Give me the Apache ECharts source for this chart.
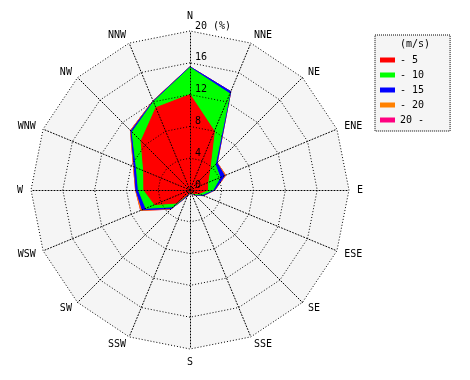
<!DOCTYPE html>
<html>
<head>
<meta charset="utf-8">
<script src="https://cdn.jsdelivr.net/npm/echarts@6/dist/echarts.min.js"></script>
<style>html,body{margin:0;padding:0;background:#fff}#c{width:470px;height:380px}</style>
</head>
<body>
<div id="c"></div>
<script>
// Directions, clockwise from north
var directions = ['N','NNE','NE','ENE','E','ESE','SE','SSE','S','SSW','SW','WSW','W','WNW','NW','NNW'];
// Frequency (%) of each speed class per direction
var speed0to5   = [12.0, 8.0, 3.5, 2.4, 2.2, 1.2, 0.6, 0.3, 0.3, 0.5, 2.3, 4.8, 5.8, 6.3, 8.7, 11.2];
var speed5to10  = [3.4, 5.1, 1.0, 1.7, 0.7, 0.4, 0.2, 0.1, 0.0, 0.1, 0.7, 1.2, 0.7, 1.0, 1.6, 0.8];
var speed10to15 = [0.1, 0.3, 0.3, 0.6, 0.2, 0.2, 0.1, 0.1, 0.1, 0.2, 0.3, 0.5, 0.3, 0.3, 0.2, 0.1];
var speed15to20 = [0.0, 0.0, 0.05, 0.15, 0.05, 0.05, 0.05, 0.05, 0.05, 0.05, 0.1, 0.2, 0.05, 0.1, 0.1, 0.05];
var speedOver20 = [0.0, 0.0, 0.0, 0.02, 0.0, 0.0, 0.0, 0.0, 0.0, 0.0, 0.02, 0.02, 0.0, 0.0, 0.0, 0.0];
var classNames  = ['- 5', '- 10', '- 15', '- 20', '20 -'];
var classColors = ['#ff0000', '#00ff00', '#0000ff', '#ff8000', '#ff0080'];
var ringLabels  = ['0', '4', '8', '12', '16', '20 (%)'];
var rMax = 20;

var FONT = 'DejaVu Sans Mono';
var classes = [speed0to5, speed5to10, speed10to15, speed15to20, speedOver20];

// cumulative totals for each class
var cum = [];
var run = directions.map(function(){return 0;});
classes.forEach(function(arr){
  run = run.map(function(v,i){return +(v + arr[i]).toFixed(3);});
  cum.push(run.slice());
});

// radar draws counter-clockwise: reorder
var order = [0];
for (var k = directions.length - 1; k >= 1; k--) order.push(k);
function reorder(a){ return order.map(function(i){return a[i];}); }

function makeIndicators(withLabel){
  return reorder(directions).map(function(d, idx){
    var o = {name: d, min: 0, max: rMax};
    if (withLabel && idx === 0) {
      o.axisLabel = {
        show: true, color: '#000', fontFamily: FONT, fontSize: 10,
        margin: -5, align: 'left', verticalAlign: 'bottom',
        formatter: function(v){ return ringLabels[Math.round(v / 4)]; }
      };
    }
    return o;
  });
}

var series = [];
for (var s = classes.length - 1; s >= 0; s--) {
  series.push({
    type: 'radar',
    radarIndex: 0,
    name: classNames[s],
    symbol: 'none',
    silent: true,
    z: 2 + (classes.length - s),
    itemStyle: {color: classColors[s]},
    lineStyle: {color: classColors[s], width: 1},
    areaStyle: {color: classColors[s], opacity: 1},
    data: [{name: classNames[s], value: reorder(cum[s])}]
  });
}

var dotted = {color: '#000', width: 1, type: [1, 2]};

var chart = echarts.init(document.getElementById('c'), null, {renderer: 'canvas'});
chart.setOption({
  animation: false,
  backgroundColor: '#ffffff',
  title: {
    text: '(m/s)', left: 400, top: 39, padding: 0,
    textStyle: {fontFamily: FONT, fontSize: 10, fontWeight: 'normal', color: '#000'}
  },
  legend: {
    data: classNames,
    orient: 'vertical',
    left: 375, top: 35,
    padding: [19, 26, 5, 5],
    itemWidth: 15, itemHeight: 5, itemGap: 3,
    icon: 'rect',
    backgroundColor: '#f5f5f5',
    borderColor: '#000', borderWidth: 1, borderType: [1, 1],
    selectedMode: false,
    textStyle: {fontFamily: FONT, fontSize: 10, color: '#000', padding: [0,0,0,0], lineHeight: 12}
  },
  radar: [{
    z: 0,
    center: [190, 190],
    radius: 159,
    shape: 'polygon',
    splitNumber: 5,
    axisName: {show: false},
    axisLine: {show: false},
    splitLine: {show: false},
    splitArea: {show: true, areaStyle: {color: ['#f5f5f5']}},
    axisTick: {show: false},
    axisLabel: {show: false},
    indicator: makeIndicators(false)
  }, {
    z: 20,
    center: [190, 190],
    radius: 159,
    shape: 'polygon',
    splitNumber: 5,
    nameGap: 8,
    axisName: {color: '#000', fontFamily: FONT, fontSize: 10},
    axisLine: {show: true, lineStyle: dotted},
    splitLine: {show: true, lineStyle: dotted},
    splitArea: {show: false},
    axisTick: {show: false},
    indicator: makeIndicators(true)
  }],
  series: series
});
</script>
</body>
</html>
